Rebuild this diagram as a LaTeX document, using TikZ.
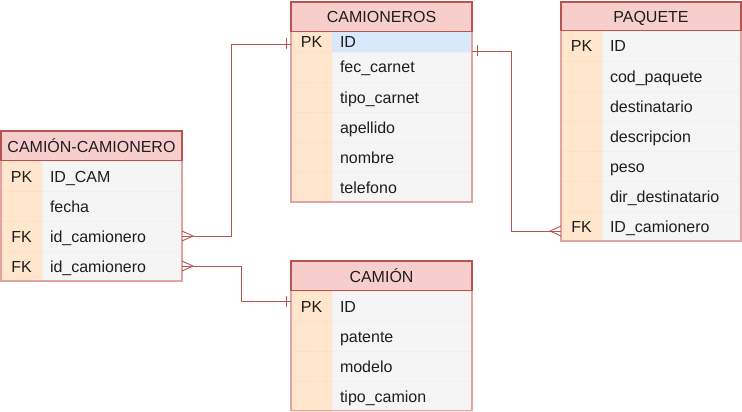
\documentclass[tikz,border=0pt]{standalone}
\usepackage{fontspec}
\setmainfont{Liberation Sans}
\usetikzlibrary{calc,positioning}

\definecolor{hdrfill}{HTML}{F8CECC}
\definecolor{hdrline}{HTML}{B85450}
\definecolor{keyfill}{HTML}{FFE6CC}
\definecolor{fldfill}{HTML}{F5F5F5}
\definecolor{idfill}{HTML}{DAE8FC}
\definecolor{tabline}{HTML}{E0A4A2}
\definecolor{txt}{HTML}{1E1E1E}

% crow's foot and single bar at a table edge (#2 = 1 right, -1 left)
\newcommand{\crowsfoot}[2]{\draw[rel] ($(#1)+(0,-5)$) -- ($(#1)+(#2*11,0)$) -- ($(#1)+(0,5)$);}
\newcommand{\onebar}[2]{\draw[rel] ($(#1)+(#2*5,-5.5)$) -- ($(#1)+(#2*5,5.5)$);}

\begin{document}
\begin{tikzpicture}[x=1pt,y=-1pt,
every node/.style={inner sep=0pt,outer sep=0pt,anchor=north west,text=txt,
  font=\fontsize{16}{19}\selectfont,text height=13.5pt,text depth=1.5pt},
hdr/.style={draw=hdrline,fill=hdrfill,line width=1.2pt,minimum width=181pt,minimum height=30pt},
keycell/.style={fill=keyfill,draw=keyfill!98!black,minimum width=41pt,minimum height=30pt},
fldcell/.style={fill=fldfill,draw=fldfill!98!black,text width=124pt,inner xsep=8pt,
  minimum height=30pt,align=left},
outline/.style={draw=tabline,line width=1.2pt},
rel/.style={draw=hdrline,line width=0.9pt}]
\useasboundingbox (0,0) rectangle (742,412);

% CAMIONEROS
\node[hdr] (cmr) at (291,2) {CAMIONEROS};
\node[keycell,minimum height=20pt] (cmr-k1) at (cmr.south west) {PK};
\node[fldcell,minimum height=20pt,fill=idfill,draw=idfill] (cmr-f1) [right=0pt of cmr-k1] {ID};
\foreach \t [count=\i from 2] in {fec\_carnet,tipo\_carnet,apellido,nombre,telefono} {
  \pgfmathtruncatemacro\j{\i-1}
  \node[keycell] (cmr-k\i) [below=0pt of cmr-k\j] {};
  \node[fldcell] (cmr-f\i) [right=0pt of cmr-k\i] {\t};
}
\draw[outline] (cmr.south west) -- (cmr-k6.south west) -- (cmr-f6.south east) -- (cmr.south east);

% PAQUETE
\node[hdr,minimum width=180pt,minimum height=29pt] (paq) at (561,2) {PAQUETE};
\node[keycell] (paq-k1) at (paq.south west) {PK};
\node[fldcell,text width=123pt] (paq-f1) [right=0pt of paq-k1] {ID};
\foreach \t [count=\i from 2] in {cod\_paquete,destinatario,descripcion,peso,dir\_destinatario} {
  \pgfmathtruncatemacro\j{\i-1}
  \node[keycell] (paq-k\i) [below=0pt of paq-k\j] {};
  \node[fldcell,text width=123pt] (paq-f\i) [right=0pt of paq-k\i] {\t};
}
\node[keycell] (paq-k7) [below=0pt of paq-k6] {FK};
\node[fldcell,text width=123pt] (paq-f7) [right=0pt of paq-k7] {ID\_camionero};
\draw[outline] (paq.south west) -- (paq-k7.south west) -- (paq-f7.south east) -- (paq.south east);

% CAMION-CAMIONERO
\node[hdr] (cc) at (1,131) {CAMIÓN-CAMIONERO};
\node[keycell] (cc-k1) at (cc.south west) {PK};
\node[fldcell] (cc-f1) [right=0pt of cc-k1] {ID\_CAM};
\node[keycell] (cc-k2) [below=0pt of cc-k1] {};
\node[fldcell] (cc-f2) [right=0pt of cc-k2] {fecha};
\node[keycell] (cc-k3) [below=0pt of cc-k2] {FK};
\node[fldcell] (cc-f3) [right=0pt of cc-k3] {id\_camionero};
\node[keycell] (cc-k4) [below=0pt of cc-k3] {FK};
\node[fldcell] (cc-f4) [right=0pt of cc-k4] {id\_camionero};
\draw[outline] (cc.south west) -- (cc-k4.south west) -- (cc-f4.south east) -- (cc.south east);

% CAMION
\node[hdr] (cam) at (291,261) {CAMIÓN};
\node[keycell] (cam-k1) at (cam.south west) {PK};
\node[fldcell] (cam-f1) [right=0pt of cam-k1] {ID};
\foreach \t [count=\i from 2] in {patente,modelo,tipo\_camion} {
  \pgfmathtruncatemacro\j{\i-1}
  \node[keycell] (cam-k\i) [below=0pt of cam-k\j] {};
  \node[fldcell] (cam-f\i) [right=0pt of cam-k\i] {\t};
}
\draw[outline] (cam.south west) -- ($(cam-k4.south west)+(0,-0.5)$) -- ($(cam-f4.south east)+(0,-0.5)$) -- (cam.south east);

% relations
\draw[rel] (cc-f3.east) -- ++(49,0) |- ($(cmr-k1.west)+(0,2)$);
\crowsfoot{cc-f3.east}{1}
\onebar{$(cmr-k1.west)+(0,2)$}{-1}

\draw[rel] ($(cmr-f1.east)+(0,9)$) -- ++(39,0) |- ($(paq-k7.west)+(0,5)$);
\onebar{$(cmr-f1.east)+(0,9)$}{1}
\crowsfoot{$(paq-k7.west)+(0,5)$}{-1}

\draw[rel] (cc-f4.east) -- ++(59,0) |- ($(cam-k1.west)+(0,-5)$);
\crowsfoot{cc-f4.east}{1}
\onebar{$(cam-k1.west)+(0,-5)$}{-1}
\end{tikzpicture}
\end{document}
